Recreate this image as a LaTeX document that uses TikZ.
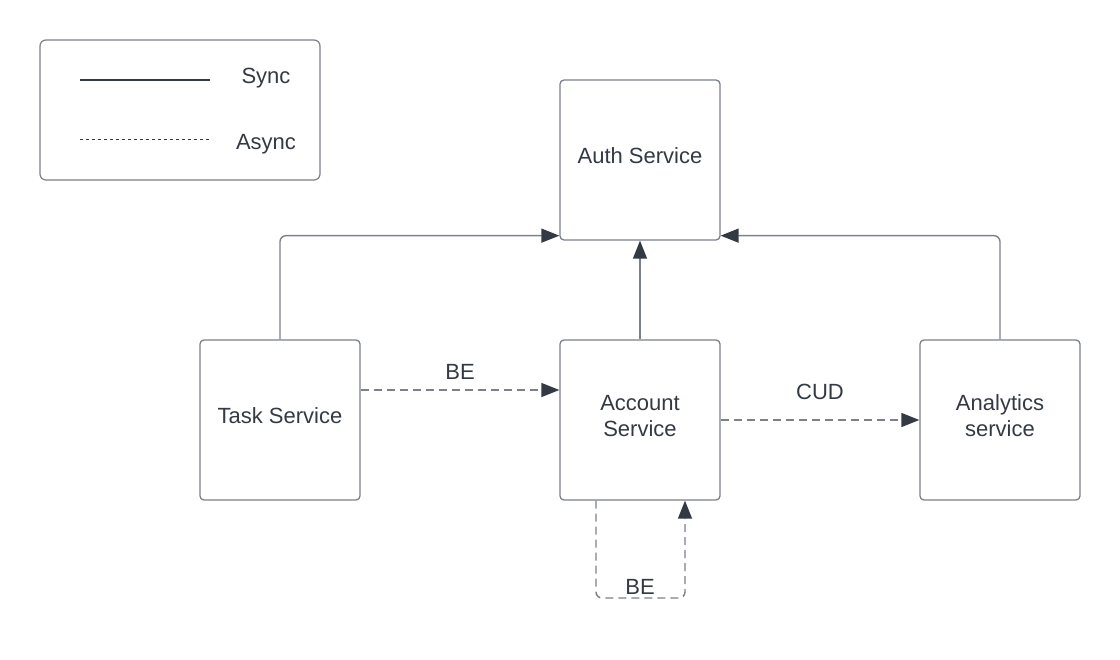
\documentclass[tikz,border=0pt]{standalone}
\usepackage{fontspec}
\setmainfont{Liberation Sans}
\usetikzlibrary{arrows.meta}

\definecolor{linegray}{HTML}{7B8089}
\definecolor{textdark}{HTML}{333A44}

\tikzset{
    service/.style={draw=linegray, line width=1.3pt, rounded corners=4pt, minimum width=160pt, minimum height=160pt, align=center, text=textdark, font=\fontsize{22}{26}\selectfont},
    label/.style={text=textdark, font=\fontsize{22}{26}\selectfont},
    sync/.style={draw=linegray, line width=1.4pt, rounded corners=6pt, -{Triangle[length=18pt,width=14pt,color=textdark]}},
    async/.style={sync, dash pattern=on 8pt off 5pt}
}

\begin{document}
\begin{tikzpicture}[x=1pt, y=-1pt]
    \useasboundingbox (0,0) rectangle (1120,660);

    % Legend
    \draw[draw=linegray, line width=1.2pt, rounded corners=6pt] (40,40) rectangle (320,180);
    \coordinate (syncA) at (80,80);
    \coordinate (syncB) at (210,80);
    \coordinate (asyncA) at (80,140);
    \coordinate (asyncB) at (210,140);
    \draw[textdark, line width=1.1pt] (syncA) -- (syncB);
    \draw[textdark, line width=1pt, dash pattern=on 3pt off 3pt] (asyncA) -- (asyncB);
    \node[label] (synclabel) at (266,78) {Sync}; % Label for sync calls
    \node[label] (asynclabel) at (266,144) {Async}; % Label for async events

    % Services
    \node[service] (auth) at (640,160) {};
    \node[label] (authtext) at (640,156) {Auth Service};
    \node[service] (task) at (280,420) {};
    \node[label] (tasktext) at (280,416) {Task Service};
    \node[service] (account) at (640,420) {};
    \node[label, align=center] (accounttext) at (640,416) {Account\\Service};
    \node[service] (analytics) at (1000,420) {};
    \node[label, align=center] (analyticstext) at (1000,416) {Analytics\\service};

    % Sync calls to the auth service
    \draw[sync] (task.north) |- ([yshift=5pt]auth.south west);
    \draw[sync] (account.north) -- (auth.south);
    \draw[sync] (analytics.north) |- ([yshift=5pt]auth.south east);

    % Async events
    \draw[async] ([yshift=30pt]task.east) -- node[label, above=6pt] (be1) {BE} ([yshift=30pt]account.west);
    \draw[async] (account.east) -- node[label, above=16pt] (cud) {CUD} (analytics.west);
    \coordinate (loopA) at (596,598);
    \coordinate (loopB) at (685,598);
    \draw[async] (account.south -| loopA) -- (loopA) -- (loopB) -- (account.south -| loopB);
    \node[label] (be2) at (640,587) {BE}; % Label for the self loop
\end{tikzpicture}
\end{document}
